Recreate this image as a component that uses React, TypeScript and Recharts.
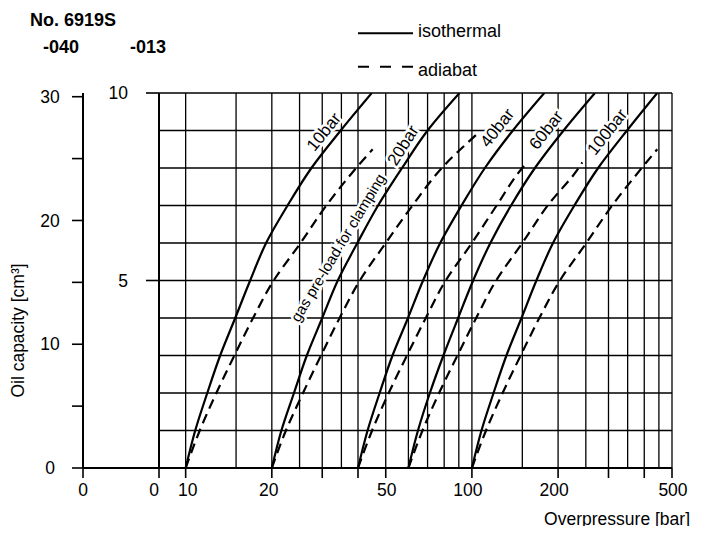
import { CartesianGrid, Legend, Line, LineChart, ReferenceDot, XAxis, YAxis } from "recharts";

// oil capacity steps (cm³, -013 scale) read for the isothermal curves
const CAPACITY = [0, 1, 2, 3, 4, 5, 6, 7, 8, 9, 10];

// overpressure (bar) at each capacity step, isothermal
const ISO_10 = [10, 10.8, 11.9, 13.2, 14.9, 16.8, 19.1, 22.7, 27.5, 34.8, 44.7];
const ISO_20 = [20, 21.6, 23.9, 26.5, 30, 34, 39.8, 47, 57, 70, 90.5];
const ISO_40 = [40, 43.2, 47.6, 52.8, 59.8, 67.5, 77.5, 92, 111, 139, 179];
const ISO_60 = [60, 64.8, 71.3, 79.5, 89.5, 101, 116, 137, 166, 209, 269];
const ISO_100 = [100, 108, 119, 132, 149, 168, 192, 228, 276, 348, 444];

// adiabat curves stop a bit below the top, so each has its own capacity list
const ADI_10 = [10, 11.2, 12.8, 14.8, 17.2, 20.3, 25.2, 31, 39.4, 45];
const ADI_10_CAP = [0, 1, 2, 3, 4, 5, 6, 7, 8, 8.5];
const ADI_20 = [20, 22.4, 25.7, 29.7, 34.5, 40.6, 50, 62, 78.5, 104];
const ADI_20_CAP = [0, 1, 2, 3, 4, 5, 6, 7, 8, 8.9];
const ADI_40 = [40, 44.8, 51.2, 59.3, 69, 81, 100, 122, 150, 154];
const ADI_40_CAP = [0, 1, 2, 3, 4, 5, 6, 7, 8, 8.1];
const ADI_60 = [60, 67.2, 76.8, 89, 103.5, 121.5, 150, 184, 236, 243];
const ADI_60_CAP = [0, 1, 2, 3, 4, 5, 6, 7, 8, 8.15];
const ADI_100 = [100, 112, 128, 148, 172, 203, 251, 309, 392, 444];
const ADI_100_CAP = [0, 1, 2, 3, 4, 5, 6, 7, 8, 8.5];

const X_MIN = 8.07; // left edge of the log axis, printed as "0"
const X_TICKS = [X_MIN, 10, 20, 30, 40, 50, 100, 200, 300, 400, 500];
const X_LABELS = ["0", "10", "20", "", "", "50", "100", "200", "", "", "500"];
const X_LABEL_DX = [-5, 2, -3, 0, 0, 1, -4, -4, 0, 0, 1];
const GRID_P = [10, 15, 20, 25, 30, 35, 40, 50, 60, 70, 80, 90, 100, 150, 200, 250, 300, 350, 400, 450, 500];
const GRID_V = [1, 2, 3, 4, 5, 6, 7, 8, 9, 10];
const INNER_TICKS = [5, 10];
const OUTER_TICKS = [0, 5, 10, 15, 20, 25, 30];
const OUTER_LABELS = ["0", "", "10", "", "20", "", "30"];

const CURVE_TAGS = [
  { text: "10bar", p: 30.4, v: 8.96, angle: -51, size: 17 },
  { text: "gas pre-load for clamping", p: 34, v: 5.88, angle: -59, size: 15 },
  { text: "20bar", p: 57.5, v: 8.6, angle: -58, size: 17 },
  { text: "40bar", p: 122.6, v: 9.07, angle: -52, size: 17 },
  { text: "60bar", p: 182, v: 9.01, angle: -52, size: 17 },
  { text: "100bar", p: 297, v: 8.96, angle: -52, size: 17 },
];

const FONT = '"Liberation Sans", Arial, Helvetica, sans-serif';
const FS = 17.5;
const OUTER_TICK = 11;
const INNER_W = 76;

const toPoints = (ps: number[], vs: number[]) => ps.map((p, i) => ({ p, v: vs[i] }));

const SERIES = [
  { id: "iso10", data: toPoints(ISO_10, CAPACITY), dashed: false },
  { id: "iso20", data: toPoints(ISO_20, CAPACITY), dashed: false },
  { id: "iso40", data: toPoints(ISO_40, CAPACITY), dashed: false },
  { id: "iso60", data: toPoints(ISO_60, CAPACITY), dashed: false },
  { id: "iso100", data: toPoints(ISO_100, CAPACITY), dashed: false },
  { id: "adi10", data: toPoints(ADI_10, ADI_10_CAP), dashed: true },
  { id: "adi20", data: toPoints(ADI_20, ADI_20_CAP), dashed: true },
  { id: "adi40", data: toPoints(ADI_40, ADI_40_CAP), dashed: true },
  { id: "adi60", data: toPoints(ADI_60, ADI_60_CAP), dashed: true },
  { id: "adi100", data: toPoints(ADI_100, ADI_100_CAP), dashed: true },
];

function PressureTick({ x, y, payload }: any) {
  const i = X_TICKS.indexOf(payload.value);
  const label = X_LABELS[i];
  if (!label) return <g />;
  return (
    <text x={x + X_LABEL_DX[i]} y={y} dy="0.71em" textAnchor="middle" fontSize={FS} fill="#000">
      {label}
    </text>
  );
}

function OuterTick({ x, y, payload }: any) {
  const axisX = x + OUTER_TICK;
  const label = OUTER_LABELS[OUTER_TICKS.indexOf(payload.value)];
  return (
    <g>
      {label && (
        <text x={axisX - 33} y={y} dy="0.355em" textAnchor="middle" fontSize={FS} fill="#000">
          {label}
        </text>
      )}
      {payload.value === 0 && (
        <g>
          <line x1={axisX} x2={axisX + INNER_W} y1={y} y2={y} stroke="#000" strokeWidth={2} />
          <line x1={axisX} x2={axisX} y1={y} y2={y + 10} stroke="#000" strokeWidth={1.6} />
          <text x={axisX} y={y + 16} dy="0.71em" textAnchor="middle" fontSize={FS} fill="#000">
            0
          </text>
        </g>
      )}
    </g>
  );
}

function CurveTag({ viewBox, text, angle, size }: any) {
  const cx = viewBox.x + viewBox.width / 2;
  const cy = viewBox.y + viewBox.height / 2;
  return (
    <text
      x={cx}
      y={cy}
      transform={`rotate(${angle} ${cx} ${cy})`}
      textAnchor="middle"
      dominantBaseline="central"
      fontSize={size}
      fill="#000"
      stroke="#fff"
      strokeWidth={5}
      paintOrder="stroke"
    >
      {text}
    </text>
  );
}

function LegendBox() {
  return (
    <svg width={200} height={75}>
      <line x1={8} x2={63} y1={18.3} y2={18.3} stroke="#000" strokeWidth={2} />
      <text x={68} y={21.7} fontSize={18} fill="#000">isothermal</text>
      <line x1={8} x2={63} y1={51.7} y2={51.7} stroke="#000" strokeWidth={2} strokeDasharray="11 11" />
      <text x={68} y={61} fontSize={18} fill="#000">adiabat</text>
    </svg>
  );
}

export default function App() {
  return (
    <div style={{ position: "relative", width: 685, height: 518, fontFamily: FONT }}>
      <svg width={200} height={60} style={{ position: "absolute", left: 0, top: 0 }}>
        <text x={22} y={18} fontSize={18} fontWeight="bold" fill="#000">No. 6919S</text>
        <text x={35} y={44.5} fontSize={18} fontWeight="bold" fill="#000">-040</text>
        <text x={122} y={44.5} fontSize={18} fontWeight="bold" fill="#000">-013</text>
      </svg>
      <LineChart width={685} height={526} margin={{ top: 85, right: 21, bottom: 36, left: 0 }}>
        <CartesianGrid
          yAxisId="inner"
          verticalValues={GRID_P}
          horizontalValues={GRID_V}
          stroke="#000"
          strokeWidth={1.3}
        />
        <XAxis
          dataKey="p"
          type="number"
          scale="log"
          domain={[X_MIN, 500]}
          allowDataOverflow
          ticks={X_TICKS}
          interval={0}
          height={30}
          tickSize={10}
          tickMargin={6}
          tick={<PressureTick />}
          axisLine={{ stroke: "#000", strokeWidth: 2 }}
          tickLine={{ stroke: "#000", strokeWidth: 1.6 }}
          label={{
            content: ({ viewBox }: any) => (
              <text
                x={viewBox.x + viewBox.width + 18}
                y={viewBox.y + 57}
                textAnchor="end"
                fontSize={FS}
                fill="#000"
              >
                Overpressure [bar]
              </text>
            ),
          }}
        />
        <YAxis
          yAxisId="inner"
          dataKey="v"
          type="number"
          domain={[0, 10]}
          allowDataOverflow
          ticks={INNER_TICKS}
          interval={0}
          width={INNER_W}
          tickSize={13}
          tickMargin={18}
          tick={{ fontSize: FS, fill: "#000" }}
          axisLine={{ stroke: "#000", strokeWidth: 2 }}
          tickLine={{ stroke: "#000", strokeWidth: 1.6 }}
        />
        <YAxis
          yAxisId="outer"
          type="number"
          domain={[0, 30.3]}
          allowDataOverflow
          ticks={OUTER_TICKS}
          interval={0}
          width={75}
          tickSize={OUTER_TICK}
          tickMargin={0}
          tick={<OuterTick />}
          axisLine={{ stroke: "#000", strokeWidth: 2 }}
          tickLine={{ stroke: "#000", strokeWidth: 1.6 }}
          label={{
            content: ({ viewBox }: any) => {
              const x = viewBox.x + 10;
              const y = viewBox.y + viewBox.height / 2 + 50;
              return (
                <text
                  x={x}
                  y={y}
                  transform={`rotate(-90 ${x} ${y})`}
                  textAnchor="middle"
                  dominantBaseline="central"
                  fontSize={FS}
                  fill="#000"
                >
                  Oil capacity [cm³]
                </text>
              );
            },
          }}
        />
        {CURVE_TAGS.map((t) => (
          <ReferenceDot
            key={t.text}
            yAxisId="inner"
            x={t.p}
            y={t.v}
            r={0}
            fill="none"
            stroke="none"
            ifOverflow="visible"
            label={{
              content: (props: any) => <CurveTag {...props} text={t.text} angle={t.angle} size={t.size} />,
            }}
          />
        ))}
        {SERIES.map((s) => (
          <Line
            key={s.id}
            yAxisId="inner"
            data={s.data}
            dataKey="v"
            type="monotoneY"
            stroke="#000"
            strokeWidth={2.2}
            strokeDasharray={s.dashed ? "10 6" : undefined}
            dot={false}
            activeDot={false}
            legendType="none"
            isAnimationActive={false}
          />
        ))}
        <Legend
          layout="horizontal"
          verticalAlign="middle"
          align="center"
          wrapperStyle={{ top: 7, left: 342, width: 200, height: 75 }}
          content={() => <LegendBox />}
        />
      </LineChart>
    </div>
  );
}
